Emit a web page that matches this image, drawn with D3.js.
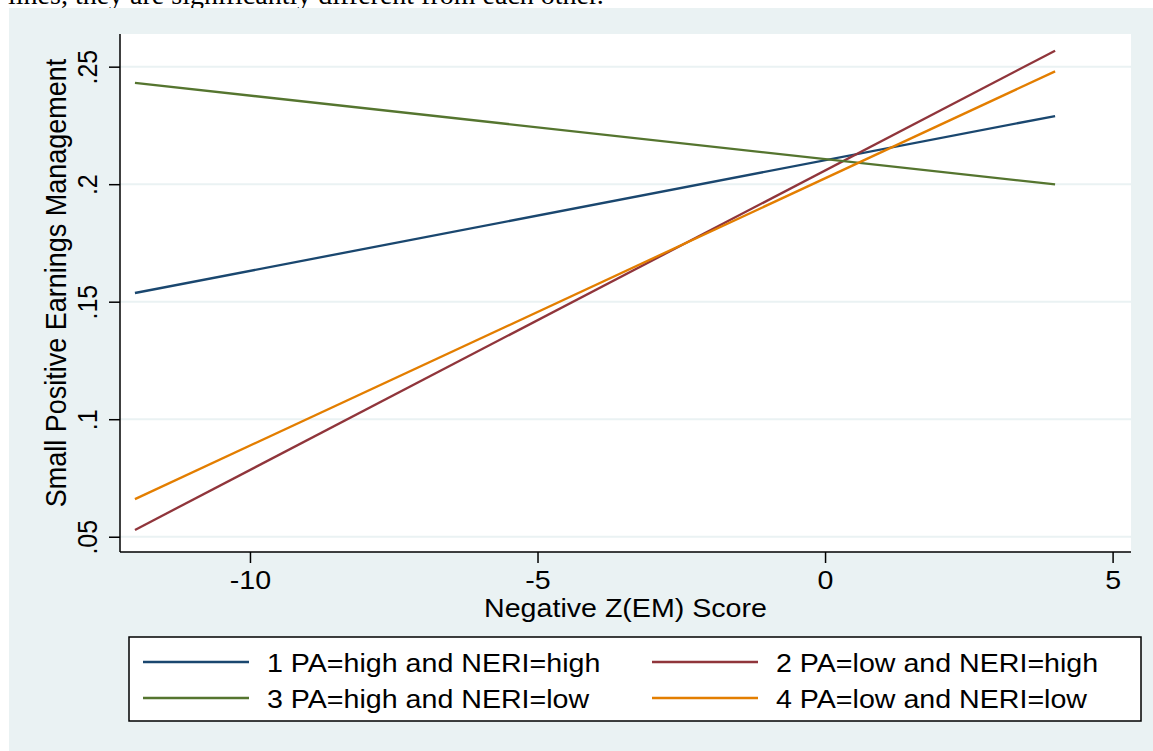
<!DOCTYPE html>
<html>
<head>
<meta charset="utf-8">
<script src="https://cdn.jsdelivr.net/npm/d3@7"></script>
<style>
  html, body { margin: 0; padding: 0; background: #ffffff; overflow: hidden; }
  svg { display: block; }
  text { font-family: "Liberation Sans", Arial, Helvetica, sans-serif; fill: #000; }
</style>
</head>
<body>
<svg id="chart" width="1153" height="751"></svg>
<script>
// margins plot data
var xValues = [-12, 4];
var seriesNames = ["1 PA=high and NERI=high", "2 PA=low and NERI=high", "3 PA=high and NERI=low", "4 PA=low and NERI=low"];
var seriesColors = ["#1a476f", "#90353b", "#55752f", "#e37e00"];
var seriesValues = [
    [0.1537, 0.2290],
    [0.0529, 0.2568],
    [0.2431, 0.1999],
    [0.0660, 0.2480]
];
var xTicks = [-10, -5, 0, 5];
var yTicks = [0.05, 0.10, 0.15, 0.20, 0.25];
var xTitle = "Negative Z(EM) Score";
var yTitle = "Small Positive Earnings Management";
var topNote = "lines, they are significantly different from each other.";

var space = {"width": 1153, "height": 751,
    "plot": {"left": 120, "right": 1131, "top": 34, "bottom": 552}};
var bg = "#eaf2f3";
var stretch = 1.1; // the text in the picture is a bit wide

var svg = d3.select("#chart");

// page note cut at the top (as in the picture)
svg.append("text")
    .attr("x", 8).attr("y", 4)
    .style("font-family", "'Liberation Serif', 'Times New Roman', serif")
    .style("font-size", "28px")
    .text(topNote);

// graph region
svg.append("rect")
    .attr("x", 9).attr("y", 8)
    .attr("width", space.width - 9).attr("height", space.height - 8)
    .attr("fill", bg);

// plot region
svg.append("rect")
    .attr("x", space.plot.left).attr("y", space.plot.top)
    .attr("width", space.plot.right - space.plot.left)
    .attr("height", space.plot.bottom - space.plot.top)
    .attr("fill", "#ffffff");

var x = d3.scaleLinear().domain([-12.26, 5.32]).range([space.plot.left, space.plot.right]);
var y = d3.scaleLinear().domain([0.0435, 0.2639]).range([space.plot.bottom, space.plot.top]);

// grid
svg.append("g").selectAll("line")
    .data(yTicks).enter()
    .append("line")
    .attr("x1", space.plot.left).attr("x2", space.plot.right)
    .attr("y1", function (d) { return y(d); })
    .attr("y2", function (d) { return y(d); })
    .attr("stroke", bg).attr("stroke-width", 2);

// series lines
var line = d3.line()
    .x(function (d, i) { return x(xValues[i]); })
    .y(function (d) { return y(d); });

svg.append("g").selectAll("path")
    .data(seriesValues).enter()
    .append("path")
    .attr("d", line)
    .attr("fill", "none")
    .attr("stroke", function (d, i) { return seriesColors[i]; })
    .attr("stroke-width", 2.3);

// axes
var fmtY = function (d) { return d3.format(".2~f")(d).replace(/^0/, ""); };
var fmtX = function (d) { return String(d); };

var yAxis = svg.append("g")
    .attr("transform", "translate(" + space.plot.left + ",0)")
    .call(d3.axisLeft(y).tickValues(yTicks).tickSize(11).tickFormat(fmtY));
var xAxis = svg.append("g")
    .attr("transform", "translate(0," + space.plot.bottom + ")")
    .call(d3.axisBottom(x).tickValues(xTicks).tickSize(11).tickFormat(fmtX));

[xAxis, yAxis].forEach(function (ax) {
    ax.select(".domain").remove();
    ax.selectAll(".tick line").attr("stroke", "#000").attr("stroke-width", 1.5);
    ax.selectAll(".tick text").style("font-size", "26px").attr("fill", "#000");
});
yAxis.selectAll(".tick text")
    .style("font-size", "25px")
    .attr("x", null).attr("dy", null)
    .attr("text-anchor", "middle")
    .attr("transform", "translate(-23,0) rotate(-90) scale(1," + stretch + ")");
xAxis.selectAll(".tick text")
    .attr("y", null).attr("dy", null)
    .attr("text-anchor", "middle")
    .attr("transform", "translate(0,37) scale(" + stretch + ",1)");

// axis lines
svg.append("line")
    .attr("x1", space.plot.left).attr("x2", space.plot.left)
    .attr("y1", space.plot.top).attr("y2", space.plot.bottom)
    .attr("stroke", "#000").attr("stroke-width", 1.5);
svg.append("line")
    .attr("x1", space.plot.left).attr("x2", space.plot.right)
    .attr("y1", space.plot.bottom).attr("y2", space.plot.bottom)
    .attr("stroke", "#000").attr("stroke-width", 1.5);

// axis titles
svg.append("text")
    .attr("text-anchor", "middle")
    .style("font-size", "26px")
    .attr("transform", "translate(" + ((space.plot.left + space.plot.right) / 2) + ",617) scale(" + stretch + ",1)")
    .text(xTitle);
svg.append("text")
    .attr("text-anchor", "middle")
    .style("font-size", "27px")
    .attr("transform", "translate(66,283) rotate(-90) scale(1," + stretch + ")")
    .text(yTitle);

// legend
var legend = {"x": 129, "y": 637, "w": 1012, "h": 84};
svg.append("rect")
    .attr("x", legend.x).attr("y", legend.y)
    .attr("width", legend.w).attr("height", legend.h)
    .attr("fill", "#ffffff").attr("stroke", "#000").attr("stroke-width", 1.5);

var colX = d3.scalePoint().domain([0, 1]).range([143, 652]);
var rowY = d3.scalePoint().domain([0, 1]).range([662, 698]);

var items = svg.append("g").selectAll("g")
    .data(seriesNames).enter()
    .append("g")
    .attr("transform", function (d, i) {
        return "translate(" + colX(i % 2) + "," + rowY(Math.floor(i / 2)) + ")";
    });
items.append("line")
    .attr("x1", 0).attr("x2", 106)
    .attr("y1", 0).attr("y2", 0)
    .attr("stroke", function (d, i) { return seriesColors[i]; })
    .attr("stroke-width", 2.5);
items.append("text")
    .attr("transform", "translate(124,10) scale(" + stretch + ",1)")
    .style("font-size", "26px")
    .text(function (d) { return d; });
</script>
</body>
</html>
